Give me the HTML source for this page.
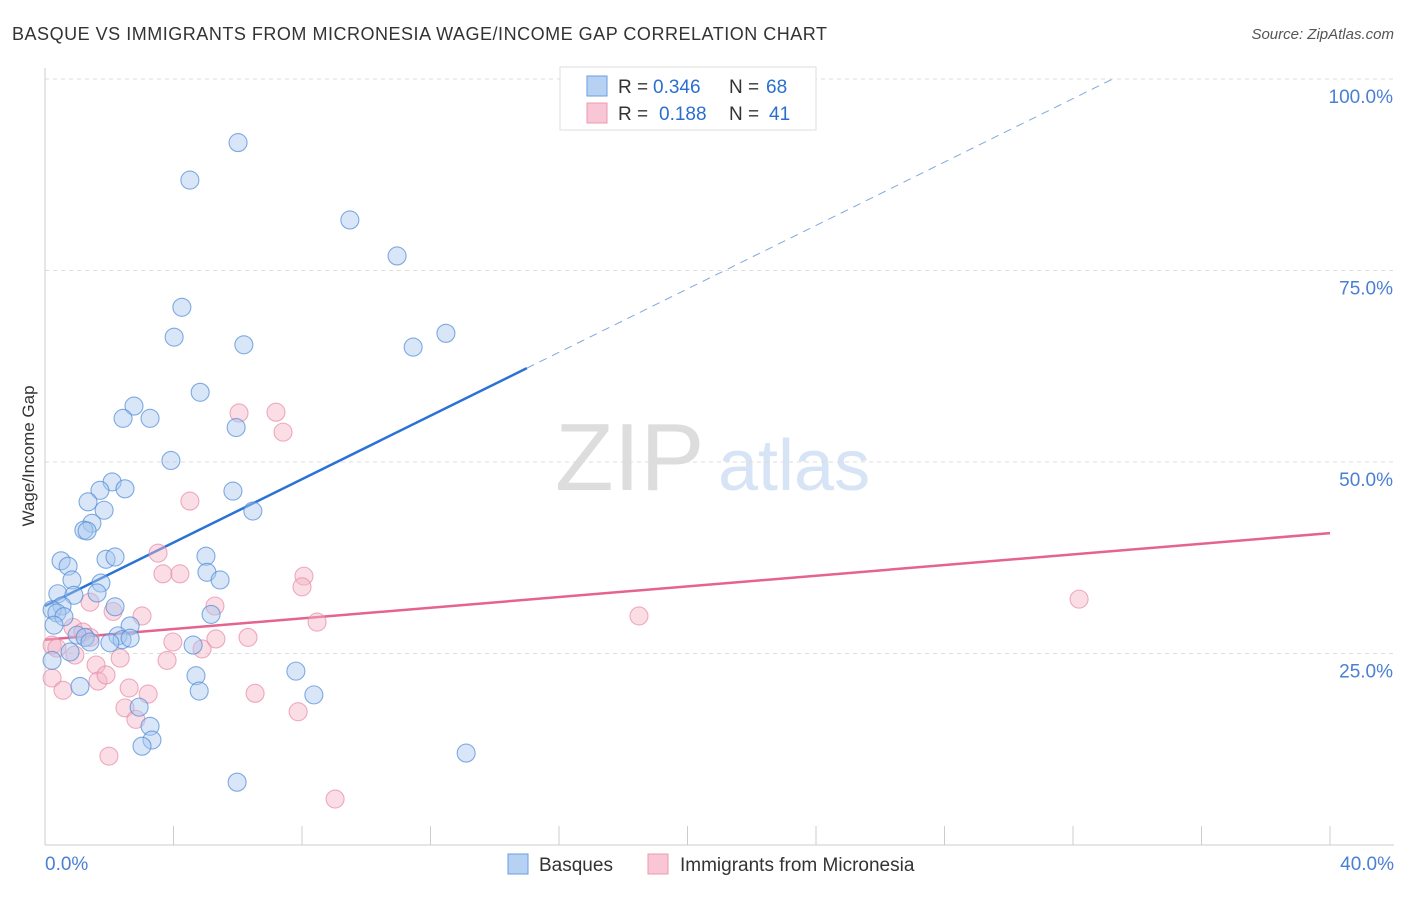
<!DOCTYPE html>
<html><head><meta charset="utf-8"><style>
body{margin:0;background:#fff;font-family:"Liberation Sans",sans-serif;}
svg text{font-family:"Liberation Sans",sans-serif;}
</style></head><body>
<svg id="chart" width="1406" height="892" viewBox="0 0 1406 892">
<text x="12" y="40" font-size="18" fill="#333" textLength="815">BASQUE VS IMMIGRANTS FROM MICRONESIA WAGE/INCOME GAP CORRELATION CHART</text>
<text x="1394" y="39" font-size="15" fill="#555" text-anchor="end" font-style="italic">Source: ZipAtlas.com</text>
<g>
<text x="555" y="490" font-size="96" fill="#ddd" font-family="Liberation Serif,serif">ZIP</text>
<text x="718" y="490" font-size="72" fill="#d6e4f5">atlas</text>
</g>
<g id="grid"></g>
<g id="axes"></g>
<g id="lines"></g>
<g id="pts"></g>
<text transform="translate(34,456) rotate(-90)" font-size="17" fill="#333" text-anchor="middle">Wage/Income Gap</text>
<g>
<rect x="560" y="67" width="256" height="63" fill="#fff" stroke="#ddd"/>
<rect x="587" y="76" width="20" height="20" fill="#b7d1f3" stroke="#6b9ee0"/>
<rect x="587" y="103" width="20" height="20" fill="#f8c6d4" stroke="#eb9ab2"/>
<text x="618" y="93" font-size="19" fill="#333">R =</text>
<text x="653" y="93" font-size="19" fill="#2a6fd0">0.346</text>
<text x="729" y="93" font-size="19" fill="#333">N =</text>
<text x="766" y="93" font-size="19" fill="#2a6fd0">68</text>
<text x="618" y="120" font-size="19" fill="#333">R =</text>
<text x="659" y="120" font-size="19" fill="#2a6fd0">0.188</text>
<text x="729" y="120" font-size="19" fill="#333">N =</text>
<text x="769" y="120" font-size="19" fill="#2a6fd0">41</text>
</g>
<g>
<rect x="508" y="854" width="20" height="20" fill="#b7d1f3" stroke="#6b9ee0"/>
<text x="539" y="871" font-size="19" fill="#333">Basques</text>
<rect x="648" y="854" width="20" height="20" fill="#f8c6d4" stroke="#eb9ab2"/>
<text x="680" y="871" font-size="19" fill="#333">Immigrants from Micronesia</text>
</g>
</svg>
<script>
const blueX=[6.01,4.51,9.49,10.96,4.26,4.02,6.19,12.48,11.46,4.83,2.77,2.43,3.27,5.95,3.92,2.09,1.71,2.49,5.85,1.34,1.84,6.47,1.46,1.21,1.31,0.50,0.72,1.90,2.18,5.01,5.04,5.45,0.84,1.74,1.62,0.40,0.90,0.53,0.22,0.37,2.18,5.17,0.59,0.28,2.65,2.27,1.00,1.25,2.40,2.65,1.40,2.02,4.61,0.78,0.22,7.81,4.70,1.09,4.80,8.37,2.93,3.27,3.33,3.02,13.11,5.98];
const blueY=[91.7,86.8,81.6,76.9,70.2,66.3,65.3,66.8,65.0,59.1,57.3,55.7,55.7,54.5,50.2,47.4,46.3,46.5,46.2,44.8,43.7,43.6,42.0,41.1,41.0,37.1,36.4,37.3,37.6,37.7,35.6,34.6,34.6,34.2,32.9,32.8,32.6,31.2,30.7,30.3,31.1,30.1,29.8,28.7,28.6,27.3,27.4,27.1,26.8,27.0,26.5,26.4,26.1,25.2,24.1,22.7,22.1,20.7,20.1,19.6,18.0,15.5,13.7,12.9,12.0,8.2];
const pinkX=[0.22,0.56,0.22,0.37,0.87,1.18,1.40,0.93,1.59,1.65,1.90,1.40,2.12,2.34,2.62,2.49,3.21,2.83,1.99,3.02,3.52,3.67,4.20,4.51,3.80,3.98,4.89,5.29,5.32,6.04,7.19,7.41,6.32,6.54,8.06,8.00,8.47,7.88,9.03,18.49,32.19];
const pinkY=[21.8,20.2,26.1,25.7,28.4,27.8,27.1,24.8,23.5,21.4,22.2,31.7,30.5,24.4,20.5,17.9,19.7,16.4,11.6,29.9,38.1,35.4,35.4,44.9,24.1,26.5,25.6,31.2,26.9,56.4,56.5,53.9,27.1,19.8,35.1,33.7,29.1,17.4,6.0,29.9,32.1];
const blueTrend=[31.2,2.07];
const pinkTrend=[26.8,0.348];
const yTicks=[25,50,75,100];
const xTickVals=[0,4,8,12,16,20,24,28,32,36,40];
const NS='http://www.w3.org/2000/svg';
const X=v=>45+v/40*1285, Y=v=>845-v/100*766;
function mk(p,t,a){const e=document.createElementNS(NS,t);for(const k in a)e.setAttribute(k,a[k]);p.appendChild(e);return e;}
const grid=document.getElementById('grid'),axes=document.getElementById('axes'),lines=document.getElementById('lines'),pts=document.getElementById('pts');
yTicks.forEach(v=>{
 const l=mk(grid,'line',{x1:45,x2:1394,y1:Y(v),y2:Y(v),stroke:'#ddd','stroke-dasharray':'4,4'});
 
 
 const t=mk(axes,'text',{x:1393,y:Y(v)+24,'font-size':19,fill:'#4a7fd4','text-anchor':'end'});
 t.textContent=v.toFixed(1)+'%';
 
 
});
mk(axes,'line',{x1:45,x2:45,y1:68,y2:845,stroke:'#ccc'});
mk(axes,'line',{x1:45,x2:1394,y1:845,y2:845,stroke:'#ccc'});
xTickVals.forEach(v=>{
 const l=mk(axes,'line',{x1:X(v),x2:X(v),y1:826,y2:845,stroke:'#ccc'});
 
 
});
[[0,45,'start'],[40,1394,'end']].forEach(([v,x,a])=>{
 const t=mk(axes,'text',{x:x,y:870,'font-size':19,fill:'#4a7fd4','text-anchor':a});
 t.textContent=v.toFixed(1)+'%';
 
 
});
function pt(xs,ys,fill,stroke,name){xs.forEach((x,i)=>{
 const c=mk(pts,'circle',{cx:X(x),cy:Y(ys[i]),r:9,fill:fill,'fill-opacity':0.45,stroke:stroke,'stroke-opacity':0.7,'stroke-width':1.1});
 
 
});}
pt(pinkX,pinkY,'#f4b3c6','#e88aa8','micronesia-point');
pt(blueX,blueY,'#a9c8f0','#4f8ad6','basque-point');
const bEnd=15, bDash=(100-blueTrend[0])/blueTrend[1];
let l=mk(lines,'line',{x1:X(0),y1:Y(blueTrend[0]),x2:X(bEnd),y2:Y(blueTrend[0]+blueTrend[1]*bEnd),stroke:'#2a72d6','stroke-width':2.5});


l=mk(lines,'line',{x1:X(bEnd),y1:Y(blueTrend[0]+blueTrend[1]*bEnd),x2:X(bDash),y2:Y(100),stroke:'#7fa8de','stroke-width':1,'stroke-dasharray':'8,6'});


l=mk(lines,'line',{x1:X(0),y1:Y(pinkTrend[0]),x2:X(40),y2:Y(pinkTrend[0]+pinkTrend[1]*40),stroke:'#e4638f','stroke-width':2.5});


</script>
</body></html>
